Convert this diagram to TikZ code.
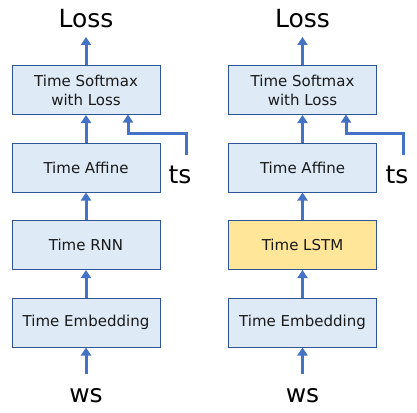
\documentclass[tikz,border=0pt]{standalone}
\usepackage{fontspec}
\setmainfont{DejaVu Sans}
\usetikzlibrary{arrows.meta}
\definecolor{boxfill}{HTML}{DEEBF7}
\definecolor{boxline}{HTML}{2F5597}
\definecolor{arrowc}{HTML}{4472C4}
\definecolor{lstmfill}{HTML}{FFE699}
\begin{document}
\begin{tikzpicture}[x=1pt,y=-1pt,
  layer/.style={draw=boxline,fill=boxfill,line width=1pt,minimum width=148pt,minimum height=49pt,inner sep=0pt,align=center,font=\fontsize{15}{19}\selectfont,text=black!90},
  lbl/.style={font=\fontsize{25}{28}\selectfont,inner sep=0pt},
  arr/.style={draw=arrowc,line width=3pt,-{Triangle[width=10pt,length=8pt]}}]
\useasboundingbox (0,0) rectangle (417,412);
% left column
\node[layer] (sm1) at (86,90) {Time Softmax\\with Loss};
\node[layer] (af1) at (86,167.5) {Time Affine};
\node[layer] (rnn) at (86,245) {Time RNN};
\node[layer] (em1) at (86,322.5) {Time Embedding};
\node[lbl] (loss1) at (86,19) {Loss};
\node[lbl] (ws1) at (86,396) {ws};
\node[lbl] (ts1) at (180,175) {ts};
\coordinate (tsc1) at (186,155);
\coordinate (lossc1) at (86,37);
\coordinate (wsc1) at (86,374);
\draw[arr] (sm1.north) -- (lossc1);
\draw[arr] (af1.north) -- (sm1.south);
\draw[arr] (rnn.north) -- (af1.south);
\draw[arr] (em1.north) -- (rnn.south);
\draw[arr] (wsc1) -- (em1.south);
\draw[arr] (tsc1) |- (128,133) -- (128,114.5);
% right column
\node[layer] (sm2) at (302.5,90) {Time Softmax\\with Loss};
\node[layer] (af2) at (302.5,167.5) {Time Affine};
\node[layer,fill=lstmfill] (lstm) at (302.5,245) {Time LSTM};
\node[layer] (em2) at (302.5,322.5) {Time Embedding};
\node[lbl] (loss2) at (302.5,19) {Loss};
\node[lbl] (ws2) at (302.5,396) {ws};
\node[lbl] (ts2) at (397,175) {ts};
\coordinate (tsc2) at (403,155);
\coordinate (lossc2) at (302.5,37);
\coordinate (wsc2) at (302.5,374);
\draw[arr] (sm2.north) -- (lossc2);
\draw[arr] (af2.north) -- (sm2.south);
\draw[arr] (lstm.north) -- (af2.south);
\draw[arr] (em2.north) -- (lstm.south);
\draw[arr] (wsc2) -- (em2.south);
\draw[arr] (tsc2) |- (346,133) -- (346,114.5);
\end{tikzpicture}
\end{document}
